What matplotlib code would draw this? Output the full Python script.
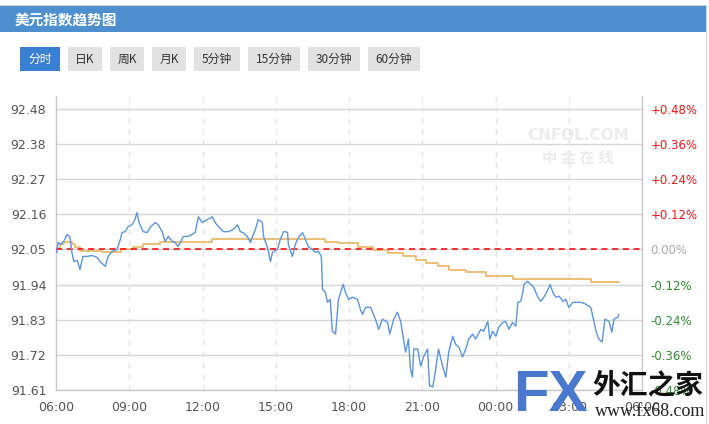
import matplotlib
matplotlib.use("Agg")
import matplotlib.pyplot as plt
from matplotlib.patches import Rectangle

plt.rcParams['font.family'] = ['DejaVu Sans', 'Noto Sans CJK SC']
CJK = ['Noto Sans CJK SC', 'DejaVu Sans']

# ---------------- data ----------------
title = "美元指数趋势图"
buttons = ["分时", "日K", "周K", "月K", "5分钟", "15分钟", "30分钟", "60分钟"]

prev_close = 92.05
pct_step = 0.12  # percent per gridline

left_labels = ["92.48", "92.38", "92.27", "92.16", "92.05", "91.94", "91.83", "91.72", "91.61"]
right_labels = ["+0.48%", "+0.36%", "+0.24%", "+0.12%", "0.00%", "-0.12%", "-0.24%", "-0.36%", "-0.48%"]
xtick_labels = ["06:00", "09:00", "12:00", "15:00", "18:00", "21:00", "00:00", "03:00", "06:00"]

# minutes after 06:00
price_minutes = [2, 5, 12, 20, 27, 34, 39, 44, 52, 59, 66, 76, 89, 101, 108, 121, 128, 138, 150, 158,
                 162, 170, 177, 187, 194, 199, 204, 214, 224, 231, 244, 251, 261, 268, 276, 286, 293, 300,
                 313, 325, 342, 350, 359, 372, 384, 391, 399, 411, 423, 436, 446, 453, 460, 470, 478, 482,
                 490, 497, 507, 510, 519, 527, 532, 544, 551, 559, 564, 569, 571, 581, 588, 596, 606, 613,
                 620, 630, 638, 645, 652, 655, 662, 667, 674, 679, 687, 694, 704, 706, 711, 719, 729, 741,
                 748, 753, 761, 773, 785, 793, 802, 815, 820, 830, 839, 847, 854, 859, 866, 871, 876, 879,
                 889, 896, 903, 913, 918, 926, 933, 940, 950, 958, 965, 975, 982, 990, 999, 1007, 1014,
                 1024, 1031, 1044, 1051, 1061, 1066, 1073, 1081, 1088, 1098, 1105, 1113, 1122, 1130, 1135,
                 1142, 1147, 1150, 1159, 1167, 1174, 1184, 1191, 1199, 1209, 1214, 1221, 1228, 1236, 1246,
                 1253, 1260, 1270, 1278, 1290, 1302, 1314, 1322, 1327, 1334, 1342, 1349, 1359, 1366, 1371,
                 1381, 1383]
price_values = [92.041, 92.072, 92.066, 92.078, 92.097, 92.091, 92.041, 92.012, 92.016, 91.987, 92.028,
                92.028, 92.031, 92.025, 92.012, 91.997, 92.028, 92.044, 92.050, 92.081, 92.103, 92.106,
                92.122, 92.128, 92.144, 92.166, 92.135, 92.106, 92.103, 92.119, 92.135, 92.128, 92.106,
                92.075, 92.091, 92.075, 92.072, 92.059, 92.091, 92.091, 92.103, 92.153, 92.135, 92.144,
                92.153, 92.135, 92.122, 92.106, 92.106, 92.113, 92.128, 92.106, 92.103, 92.091, 92.072,
                92.088, 92.113, 92.144, 92.135, 92.091, 92.059, 92.012, 92.041, 92.050, 92.081, 92.106,
                92.106, 92.103, 92.066, 92.028, 92.066, 92.088, 92.103, 92.081, 92.059, 92.050, 92.041,
                92.044, 92.028, 91.925, 91.915, 91.884, 91.893, 91.793, 91.784, 91.893, 91.934, 91.940,
                91.915, 91.893, 91.900, 91.893, 91.862, 91.846, 91.868, 91.868, 91.831, 91.799, 91.831,
                91.821, 91.784, 91.831, 91.853, 91.824, 91.768, 91.727, 91.768, 91.674, 91.649, 91.737,
                91.737, 91.683, 91.712, 91.737, 91.621, 91.618, 91.674, 91.737, 91.683, 91.649, 91.727,
                91.777, 91.752, 91.743, 91.712, 91.737, 91.768, 91.784, 91.768, 91.799, 91.793, 91.824,
                91.768, 91.793, 91.777, 91.806, 91.821, 91.824, 91.799, 91.821, 91.809, 91.884, 91.887,
                91.915, 91.940, 91.950, 91.940, 91.931, 91.900, 91.887, 91.900, 91.925, 91.940, 91.915,
                91.900, 91.903, 91.887, 91.893, 91.868, 91.884, 91.884, 91.884, 91.878, 91.868, 91.824,
                91.793, 91.768, 91.759, 91.831, 91.824, 91.790, 91.831, 91.837, 91.846]

avg_minutes = [0, 10, 20, 39, 47, 59, 113, 160, 190, 214, 256, 276, 384, 662, 694, 741, 778, 815, 852,
               884, 908, 938, 965, 1007, 1056, 1122, 1314, 1383]
avg_values = [92.050, 92.066, 92.072, 92.066, 92.059, 92.044, 92.041, 92.050, 92.059, 92.066, 92.072,
              92.075, 92.084, 92.075, 92.069, 92.059, 92.047, 92.038, 92.028, 92.016, 92.006, 91.997,
              91.987, 91.978, 91.966, 91.956, 91.947, 91.947]

# ---------------- figure ----------------
W, H = 709, 424
fig = plt.figure(figsize=(W / 100, H / 100), dpi=100)
fig.patch.set_facecolor("white")

bg = fig.add_axes([0, 0, 1, 1], zorder=0)
bg.set_xlim(0, W)
bg.set_ylim(H, 0)
bg.axis("off")

# header bar
bg.add_patch(Rectangle((0, 5), 706, 1.2, color="#d4d4d4", lw=0))
bg.add_patch(Rectangle((0, 6), 706, 26, color="#4e90cf", lw=0))
bg.add_patch(Rectangle((706, 5), 1.2, H, color="#d4d4d4", lw=0))
bg.text(15, 19.5, title, color="white", fontsize=10.5, fontweight="bold", family=CJK,
        va="center", ha="left")

# buttons
btn_x = [20, 68, 110, 152, 194, 248, 308, 368]
btn_w = [40, 34, 34, 34, 46, 52, 52, 52]
for i, (lab, x0, w) in enumerate(zip(buttons, btn_x, btn_w)):
    fc = "#3a80d2" if i == 0 else "#e2e2e2"
    tc = "white" if i == 0 else "#333333"
    bg.add_patch(Rectangle((x0, 47), w, 23.5, color=fc, lw=0))
    bg.text(x0 + w / 2, 59, lab, color=tc, fontsize=8.5, family=CJK, ha="center", va="center")

# CNFOL watermark
bg.text(578, 135, "CNFOL.COM", color="#ececec", fontsize=11, fontweight="bold",
        ha="center", va="center")
bg.text(578, 158, "中 金 在 线", color="#ececec", fontsize=11, fontweight="bold",
        family=CJK, ha="center", va="center")

# ---------------- main axes ----------------
step = prev_close * pct_step / 100.0
ticks = [prev_close + k * step for k in range(4, -5, -1)]
ymin = prev_close - 4 * step
ymax = prev_close + 4.369 * step

ax = fig.add_axes([56 / W, 1 - 390 / H, (642 - 56) / W, (390 - 96) / H], zorder=1)
ax.patch.set_alpha(0)
ax.set_xlim(0, 1440)
ax.set_ylim(ymin, ymax)

for t in ticks:
    ax.axhline(t, color="#d6d6d6", lw=1.0, zorder=1)
for xt in range(180, 1440, 180):
    ax.axvline(xt, color="#e2e2e2", lw=1.0, dashes=(4, 4), zorder=1)

ax.axhline(prev_close, color="#ff0000", lw=1.1, dashes=(4, 3), zorder=3)
ax.plot(avg_minutes, avg_values, drawstyle="steps-post", color="#e8ba6c", lw=1.3, zorder=2)
ax.plot(price_minutes, price_values, color="#5b95da", lw=1.0, zorder=4)

for side in ["left", "bottom", "right"]:
    ax.spines[side].set_color("#c8c8c8")
    ax.spines[side].set_linewidth(1.0)
ax.spines["top"].set_visible(False)

ax.set_yticks(ticks)
ax.set_yticklabels(left_labels)
ax.set_xticks(list(range(0, 1441, 180)))
ax.set_xticklabels(xtick_labels)
ax.tick_params(axis="y", length=0, pad=7, labelsize=9, labelcolor="#555555")
ax.tick_params(axis="x", length=0, pad=8, labelsize=9, labelcolor="#555555")

ax2 = ax.twinx()
ax2.set_ylim(ymin, ymax)
ax2.set_yticks(ticks)
ax2.set_yticklabels(right_labels)
ax2.tick_params(axis="y", length=0, pad=6, labelsize=8.5)
for lab, txt in zip(ax2.get_yticklabels(), right_labels):
    if txt.startswith("+"):
        lab.set_color("#f01818")
    elif txt.startswith("-"):
        lab.set_color("#2f8f2f")
    else:
        lab.set_color("#aaaaaa")
for s in ax2.spines.values():
    s.set_visible(False)

# ---------------- FX watermark (on top) ----------------
fg = fig.add_axes([0, 0, 1, 1], zorder=10)
fg.set_xlim(0, W)
fg.set_ylim(H, 0)
fg.axis("off")
fg.patch.set_alpha(0)
fg.text(550, 396, "FX", color="#4a78cc", fontsize=42, fontweight="bold",
        family="Liberation Sans", ha="center", va="center")
fg.text(648, 385, "外汇之家", color="#111111", fontsize=20, fontweight="bold",
        family=CJK, ha="center", va="center")
fg.text(650, 412, "www.fx68.com", color="#222222", fontsize=13,
        family="Liberation Serif", ha="center", va="center")

fig.savefig("out.png", dpi=100, facecolor="white")
